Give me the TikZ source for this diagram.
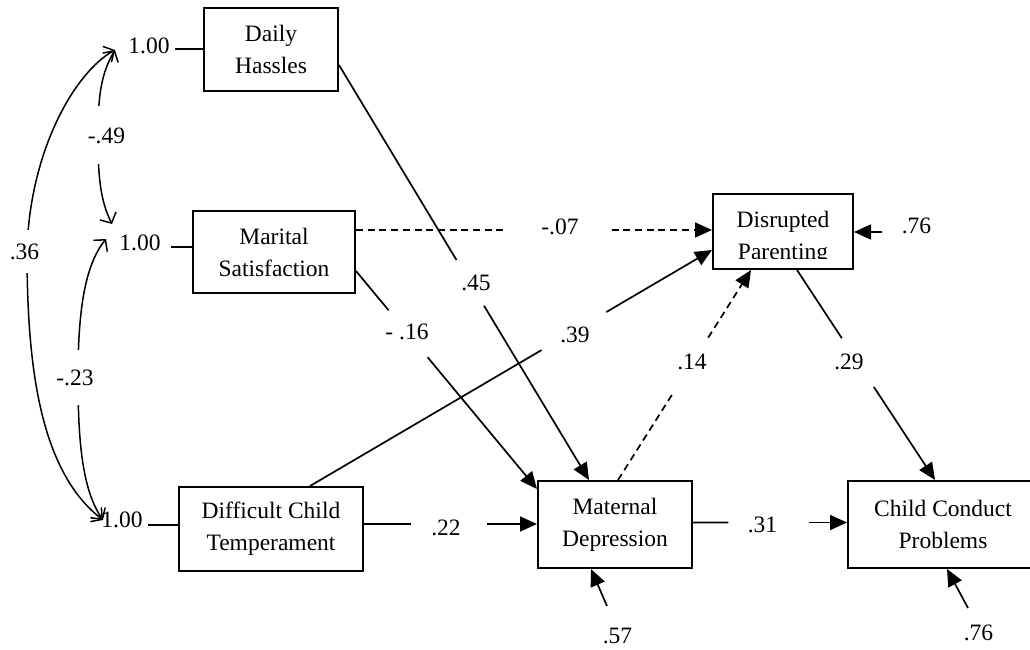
\documentclass[tikz,border=0pt]{standalone}
\usepackage{fontspec}
\setmainfont{Liberation Serif}
\usetikzlibrary{arrows.meta,calc}
\begin{document}
\begin{tikzpicture}[x=1pt,y=-1pt,
  font=\fontsize{23.5}{32}\selectfont,
  box/.style={draw,line width=2pt,inner sep=0pt,align=center},
  lab/.style={anchor=base,inner sep=0pt},
  gaplab/.style={anchor=base,inner sep=0pt,fill=white},
  conn/.style={line width=1.7pt},
  arr/.style={conn,-{Triangle[length=17pt,width=15pt]}},
  dsh/.style={dash pattern=on 7pt off 4.7pt},
  corr/.style={line width=1.5pt,{Straight Barb[length=8pt,width=18pt]}-{Straight Barb[length=8pt,width=18pt]}}
]
\useasboundingbox (0,0) rectangle (1030,650);

% boxes
\node[box,minimum width=134pt,minimum height=83pt] (dh) at (271,49.5) {Daily\\Hassles};
\node[box,minimum width=162pt,minimum height=82pt] (ms) at (274,252) {Marital\\Satisfaction};
\node[box,minimum width=184pt,minimum height=84pt] (dt) at (271,529) {Difficult Child\\Temperament};
\node[box,minimum width=154pt,minimum height=87pt] (md) at (615,524.5) {Maternal\\Depression};
\node[box,minimum width=190pt,minimum height=87pt] (cc) at (943,524.5) {Child Conduct\\Problems};
\node[box,minimum width=140pt,minimum height=75pt] (dp) at (783,231.5) {};
\begin{scope}
  \clip (713,194) rectangle (853,258.5);
  \node[align=center,inner sep=0pt] (dpt) at (783,237.5) {Disrupted\\Parenting};
\end{scope}

% variances of exogenous variables
\node[lab] (l1) at (149,54) {1.00};
\node[lab] (l2) at (140,250) {1.00};
\node[lab] (l3) at (122,527) {1.00};
\draw[conn] ($(l1.east |- 0,49)+(5,0)$) -- (dh.west |- 0,49);
\draw[conn] ($(l2.east |- 0,247)+(10,0)$) -- (ms.west |- 0,247);
\draw[conn] ($(l3.east |- 0,525)+(5,0)$) -- (dt.west |- 0,525);

% correlations
\coordinate (t1) at (115,50);
\coordinate (t2a) at (112,224);
\coordinate (t2b) at (106,239);
\coordinate (t3) at (103,520);
\draw[corr] (t1) .. controls (100,75) and (98,100) .. (98,137) .. controls (98,175) and (100,200) .. (t2a);
\draw[corr] (t1) .. controls (75,72) and (30,150) .. (27,250) .. controls (27,360) and (38,470) .. (t3);
\draw[corr] (t2b) .. controls (85,265) and (78,310) .. (78,377) .. controls (78,440) and (82,490) .. (t3);
\node[gaplab,minimum height=58pt] (c49) at (106.5,143) {-.49};
\node[gaplab,minimum height=43pt] (c36) at (24.5,259) {.36};
\node[gaplab,minimum height=55pt] (c23) at (75,385) {-.23};

% paths
\coordinate (a45) at (dh.east |- 0,65);
\coordinate (b45) at (md.north -| 589,0);
\draw[conn] (a45) -- ($(a45)!0.47!(b45)$);
\draw[arr] ($(a45)!0.58!(b45)$) -- (b45);
\node[lab] (e45) at (476,290) {.45};

\coordinate (a16) at (ms.east |- 0,271);
\coordinate (b16) at (md.west |- 0,489);
\draw[conn] (a16) -- ($(a16)!0.18!(b16)$);
\draw[arr] ($(a16)!0.395!(b16)$) -- (b16);
\node[lab] (e16) at (407,339) {- .16};

\coordinate (a07) at (ms.east |- 0,230);
\coordinate (b07) at (dp.west |- 0,230);
\draw[conn,dsh] (a07) -- ($(a07)!0.425!(b07)$);
\draw[arr,dsh] ($(a07)!0.718!(b07)$) -- (b07);
\node[lab] (e07) at (560,234) {-.07};

\coordinate (a39) at (dt.north -| 310,0);
\coordinate (b39) at (dp.west |- 0,250);
\draw[conn] (a39) -- ($(a39)!0.576!(b39)$);
\draw[arr] ($(a39)!0.737!(b39)$) -- (b39);
\node[lab] (e39) at (575,342) {.39};

\coordinate (a14) at (md.north -| 618,0);
\coordinate (b14) at (dp.south -| 751,0);
\draw[conn,dsh] (a14) -- ($(a14)!0.42!(b14)$);
\draw[arr,dsh] ($(a14)!0.678!(b14)$) -- (b14);
\node[lab] (e14) at (692,369) {.14};

\coordinate (a29) at (dp.south -| 797,0);
\coordinate (b29) at (cc.north -| 935,0);
\draw[conn] (a29) -- ($(a29)!0.325!(b29)$);
\draw[arr] ($(a29)!0.557!(b29)$) -- (b29);
\node[lab] (e29) at (849,369) {.29};

\coordinate (a22) at (dt.east |- 0,524);
\coordinate (b22) at (md.west |- 0,524);
\draw[conn] (a22) -- ($(a22)!0.27!(b22)$);
\draw[arr] ($(a22)!0.709!(b22)$) -- (b22);
\node[lab] (e22) at (446,535) {.22};

\coordinate (a31) at (md.east |- 0,522.5);
\coordinate (b31) at (cc.west |- 0,522.5);
\draw[conn] (a31) -- ($(a31)!0.23!(b31)$);
\draw[arr] ($(a31)!0.75!(b31)$) -- (b31);
\node[lab] (e31) at (762.5,532) {.31};

% residuals
\coordinate (r1) at (882,232);
\draw[arr] (r1) -- (dp.east |- r1);
\node[lab] (e76) at (916.5,233) {.76};
\coordinate (r2) at (607,606);
\draw[arr] (r2) -- (md.south -| 591,0);
\node[lab] (e57) at (617.5,643) {.57};
\coordinate (r3) at (968,608);
\draw[arr] (r3) -- (cc.south -| 947,0);
\node[lab] (e76b) at (978.5,640) {.76};
\end{tikzpicture}
\end{document}
